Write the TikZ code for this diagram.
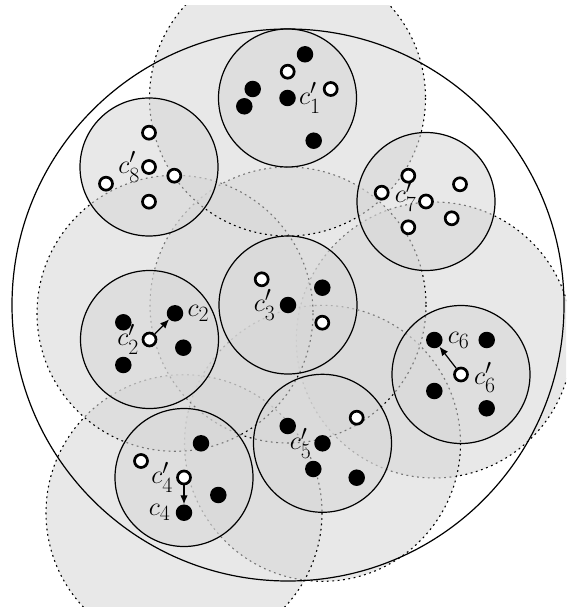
\documentclass[tikz,border=0pt]{standalone}
\usepackage{amsmath}
\usepackage{tikz}
\usetikzlibrary{positioning,arrows.meta}
\definecolor{shade}{HTML}{D6D6D6}

\begin{document}
\begin{tikzpicture}[x=1pt, y=-1pt,
  zone/.style={fill=shade, fill opacity=0.55, draw=black, line width=1.1pt,
               dash pattern=on 1.8pt off 3.6pt},
  ball/.style={fill=shade, fill opacity=0.55, draw=black, line width=1.2pt},
  hull/.style={draw=black, line width=1.2pt},
  full/.style={circle, fill=black, inner sep=0pt, minimum size=16.5pt},
  hollow/.style={circle, draw=black, fill=white, line width=2.7pt,
                 inner sep=0pt, minimum size=13pt},
  lbl/.style={inner sep=0pt, font=\fontsize{24.88}{30}\selectfont,
              scale=1.05, transform shape},
  arr/.style={-{Latex[length=9pt,width=7.5pt]}, line width=1.2pt}]
  \useasboundingbox (0,0) rectangle (566,607);
  % true centres and shifted centres
  \coordinate (m1) at (287.5,98);
  \coordinate (m2) at (175,313.3);
  \coordinate (m3) at (288,305);
  \coordinate (m4) at (184,512.7);
  \coordinate (m5) at (322.5,443.3);
  \coordinate (m6) at (434.3,340);
  \coordinate (q1) at (287.5,98);
  \coordinate (q2) at (149.5,339.5);
  \coordinate (q3) at (288,305);
  \coordinate (q4) at (184,477.5);
  \coordinate (q5) at (322.5,443.3);
  \coordinate (q6) at (461,374.5);
  \coordinate (q7) at (426,201.5);
  \coordinate (q8) at (149,167);
  % large balls
  \begin{scope}
    \clip (0,6) rectangle (566,607);
    \foreach \m in {m6,m5,m4,m3,m2,m1}
      {\draw[zone] (\m) circle[radius=138];}
  \end{scope}
  \draw[hull] (q3) circle[radius=276];
  % small balls
  \foreach \q in {q1,q2,q3,q4,q5,q6,q7,q8}
    {\draw[ball] (\q) circle[radius=69];}
  % points
  \foreach \n/\x/\y in {a1/305/54.3, a2/252.7/89, a3/244.3/106.3,
      a4/313.7/140.7, b1/123.3/322.3, b2/183.3/347.7, b3/123.3/365,
      e1/322.3/287.7, f1/486.7/340, f2/434.3/391, f3/486.7/408.3,
      g1/201/443.3, g2/218.3/495, h1/287.7/426, h2/313.3/469,
      h3/356.7/477.7}
    {\node[full] (\n) at (\x,\y) {};}
  \foreach \n/\x/\y in {o1/287.7/71.7, o2/330.7/89, o3/149/132.7,
      o4/174.3/175.7, o5/106/183.7, o6/149/201.7, o7/408.3/175.7,
      o8/381.7/192.7, o9/460/184.3, o10/451.7/218.3, o11/408.3/227.3,
      o12/261.7/279.3, o13/322.3/322.7, o14/141/461, o15/356.7/417.7}
    {\node[hollow] (\n) at (\x,\y) {};}
  \node[full]   (c1p) at (q1) {};
  \node[full]   (c3p) at (q3) {};
  \node[full]   (c5p) at (q5) {};
  \node[hollow] (c7p) at (q7) {};
  \node[hollow] (c8p) at (q8) {};
  \node[full]   (c2)  at (m2) {};
  \node[hollow] (c2p) at (q2) {};
  \node[full]   (c4)  at (m4) {};
  \node[hollow] (c4p) at (q4) {};
  \node[full]   (c6)  at (m6) {};
  \node[hollow] (c6p) at (q6) {};
  \foreach \a/\b in {c2p/c2,c4p/c4,c6p/c6}
    {\draw[arr] (\a) -- (\b);}
  % labels
  \node[lbl, right=3pt of c1p]             (l1p) {$c'_1$};
  \node[lbl, right=4pt of c2]              (l2)  {$c_2$};
  \node[lbl, left=2.5pt of c2p]            (l2p) {$c'_2$};
  \node[lbl, left=4pt of c3p]              (l3p) {$c'_3$};
  \node[lbl, left=3pt of c4p]              (l4p) {$c'_4$};
  \node[lbl, left=5pt of c4]               (l4)  {$c_4$};
  \node[lbl, left=2.5pt of c5p]            (l5p) {$c'_5$};
  \node[lbl, right=5pt of c6]              (l6)  {$c_6$};
  \node[lbl, right=5pt of c6p, yshift=-3pt] (l6p) {$c'_6$};
  \node[lbl, left=1.5pt of c7p, yshift=5pt] (l7p) {$c'_7$};
  \node[lbl, left=1pt of c8p]              (l8p) {$c'_8$};
\end{tikzpicture}
\end{document}
